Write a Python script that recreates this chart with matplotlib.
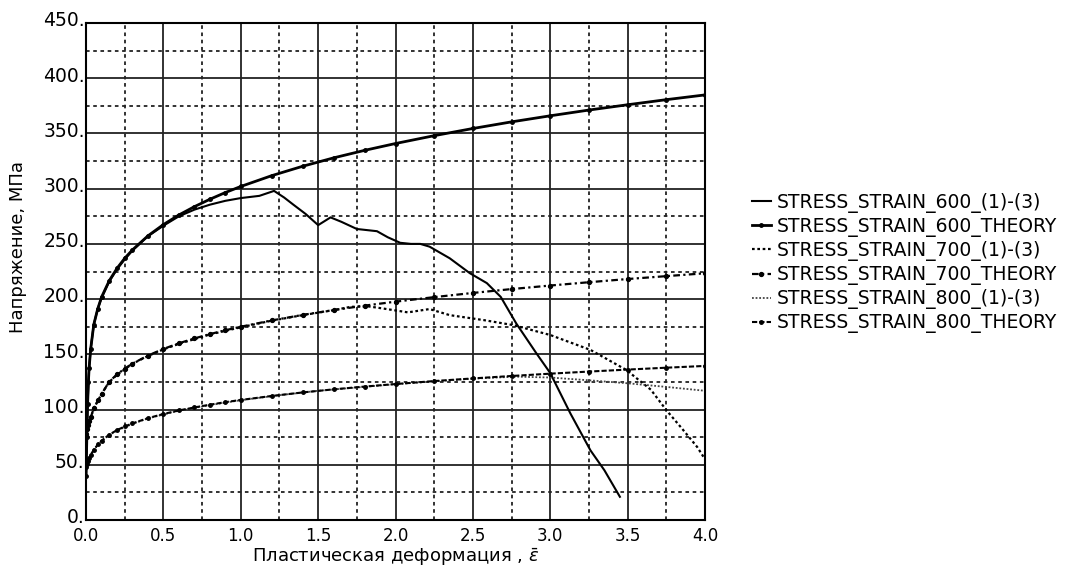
import numpy as np
import matplotlib
matplotlib.use("Agg")
import matplotlib.pyplot as plt
from matplotlib.ticker import MultipleLocator, FixedLocator, FixedFormatter
from matplotlib.transforms import ScaledTranslation

# --- data ---
x_600_exp = [0, 0.005, 0.01, 0.02, 0.03, 0.05, 0.075, 0.1, 0.15, 0.2, 0.25, 0.3, 0.4, 0.5,
             0.6, 0.7, 0.8, 0.9, 1.0, 1.12, 1.215, 1.28, 1.34, 1.42, 1.5, 1.58, 1.65, 1.75,
             1.88, 1.95, 2.03, 2.1, 2.16, 2.22, 2.35, 2.48, 2.59, 2.68, 2.78, 2.91, 3.0,
             3.13, 3.26, 3.35, 3.45]
y_600_exp = [40, 75, 105, 138, 155, 177, 191, 201, 216, 227, 236, 244, 257, 266.5,
             275, 281, 285.5, 289, 291.5, 293.5, 298, 292, 285.5, 277, 267, 274, 270, 263.5,
             261.5, 256, 251, 250, 250, 247.5, 237, 223.5, 214.5, 202, 178, 151, 133,
             96.5, 63, 45, 21]

x_600_th = [0, 0.005, 0.01, 0.015, 0.02, 0.03, 0.05, 0.075, 0.1, 0.15, 0.2, 0.25, 0.3, 0.4,
            0.5, 0.6, 0.7, 0.8, 0.9, 1.0, 1.2, 1.4, 1.6, 1.8, 2.0, 2.25, 2.5, 2.75, 3.0,
            3.25, 3.5, 3.75, 4.0]
y_600_th = [40, 75, 105, 125, 138, 155, 177, 191, 201.8, 216.7, 227.9, 237, 244.6, 257.3,
            267.5, 276.2, 283.7, 290.4, 296.5, 302, 311.8, 320.3, 327.9, 334.7, 340.9, 348,
            354.5, 360.5, 366, 371.2, 376, 380.6, 384.9]

x_700_exp = [0, 0.005, 0.01, 0.02, 0.03, 0.05, 0.08, 0.1, 0.15, 0.2, 0.3, 0.4, 0.5, 0.6,
             0.8, 1.0, 1.2, 1.4, 1.6, 1.71, 1.82, 1.92, 2.08, 2.22, 2.35, 2.57, 2.76, 3.0,
             3.26, 3.49, 3.65, 3.75, 3.85, 3.95, 4.0]
y_700_exp = [78, 82, 86, 90, 93, 101, 109, 114, 125, 131.5, 141.5, 148.5, 154.5, 159.5,
             168, 174.5, 180.5, 185.5, 190, 193, 193.5, 191.5, 188, 191, 185.5, 181, 176.5,
             167.5, 154, 136, 118, 99.5, 83, 66, 55]

x_th = [0, 0.005, 0.01, 0.02, 0.03, 0.05, 0.08, 0.1, 0.15, 0.2, 0.25, 0.3, 0.4, 0.5, 0.6,
        0.7, 0.8, 0.9, 1.0, 1.2, 1.4, 1.6, 1.8, 2.0, 2.25, 2.5, 2.75, 3.0, 3.25, 3.5, 3.75, 4.0]
y_700_th = [78, 82, 86, 90, 93, 101, 109, 114, 125.3, 131.8, 137.1, 141.6, 148.9, 154.9,
            160, 164.4, 168.3, 171.8, 175, 180.7, 185.7, 190.1, 194.1, 197.7, 201.8, 205.6,
            209.1, 212.3, 215.3, 218.2, 220.8, 223.4]
y_800_th = [48, 50.5, 53, 56, 59, 63.5, 69, 71.8, 77.3, 81.4, 84.7, 87.5, 92.2, 96, 99.2,
            101.9, 104.4, 106.7, 108.7, 112.3, 115.5, 118.3, 120.8, 123.1, 125.8, 128.2,
            130.4, 132.5, 134.4, 136.2, 137.9, 139.5]

x_800_exp = [0, 0.005, 0.01, 0.02, 0.03, 0.05, 0.08, 0.1, 0.15, 0.2, 0.3, 0.4, 0.5, 0.6,
             0.8, 1.0, 1.25, 1.5, 1.75, 2.0, 2.25, 2.5, 2.78, 3.0, 3.25, 3.5, 3.75, 4.0]
y_800_exp = [48, 50.5, 53, 56, 59, 63.5, 69, 71.5, 77, 81, 87, 92, 95.5, 99, 104, 108.5,
             113, 117, 120, 123, 125.5, 128, 129.8, 129, 126.5, 123.8, 120.5, 117]

x_ticks = [0.0, 0.5, 1.0, 1.5, 2.0, 2.5, 3.0, 3.5, 4.0]
x_tick_labels = ["0.0", "0.5", "1.0", "1.5", "2.0", "2.5", "3.0", "3.5", "4.0"]
y_ticks = [0, 50, 100, 150, 200, 250, 300, 350, 400, 450]
y_tick_labels = ["0.", "50.", "100.", "150.", "200.", "250.", "300.", "350.", "400.", "450."]

fig = plt.figure(figsize=(10.69, 5.67), dpi=100)
ax = fig.add_axes([0.0805, 0.0829, 0.579, 0.8765])

k = "black"
ax.plot(x_600_exp, y_600_exp, color=k, lw=1.5, label="STRESS_STRAIN_600_(1)-(3)")
ax.plot(x_600_th, y_600_th, color=k, lw=2.0, marker="o", ms=2.5,
        label="STRESS_STRAIN_600_THEORY")
ax.plot(x_700_exp, y_700_exp, color=k, lw=1.6, ls=(0, (1.2, 1.2)),
        label="STRESS_STRAIN_700_(1)-(3)")
ax.plot(x_th, y_700_th, color=k, lw=1.6, ls=(0, (3, 1.5, 1, 1.5)), marker="o", ms=2.8,
        label="STRESS_STRAIN_700_THEORY")
ax.plot(x_800_exp, y_800_exp, color="#444444", lw=1.3, ls=(0, (1, 1)),
        label="STRESS_STRAIN_800_(1)-(3)")
ax.plot(x_th, y_800_th, color=k, lw=1.5, ls=(0, (2.5, 1)), marker="o", ms=2.5,
        label="STRESS_STRAIN_800_THEORY")

ax.set_xlim(0, 4.0)
ax.set_ylim(0, 450)
ax.xaxis.set_major_locator(FixedLocator(x_ticks))
ax.xaxis.set_major_formatter(FixedFormatter(x_tick_labels))
ax.yaxis.set_major_locator(FixedLocator(y_ticks))
ax.yaxis.set_major_formatter(FixedFormatter(y_tick_labels))
ax.xaxis.set_minor_locator(MultipleLocator(0.25))
ax.yaxis.set_minor_locator(MultipleLocator(25))

ax.grid(which="major", color="#222222", lw=1.3, ls="-")
ax.grid(which="minor", color="#222222", lw=1.3, ls=(0, (2, 2)))
ax.set_axisbelow(True)
for s in ax.spines.values():
    s.set_linewidth(1.5)

ax.tick_params(which="both", length=0)
ax.tick_params(axis="y", pad=1, labelsize=13.5)
ax.tick_params(axis="x", pad=5, labelsize=12)

# y labels sit a touch above their grid lines, as in the reference
shift = ScaledTranslation(0, 3 / 72, fig.dpi_scale_trans)
for t in ax.get_yticklabels():
    t.set_transform(t.get_transform() + shift)

ax.set_xlabel("Пластическая деформация , $\\bar{\\varepsilon}$", fontsize=13, labelpad=1)
ax.set_ylabel("Напряжение, МПа", fontsize=13)
ax.yaxis.set_label_coords(-0.095, 0.55)

fig.legend(loc="center left", bbox_to_anchor=(0.7035, 0.536), frameon=False,
           fontsize=13.5, handlelength=1.0, handletextpad=0.3, labelspacing=0.22,
           borderpad=0, borderaxespad=0)

fig.savefig("out.png", dpi=100)
